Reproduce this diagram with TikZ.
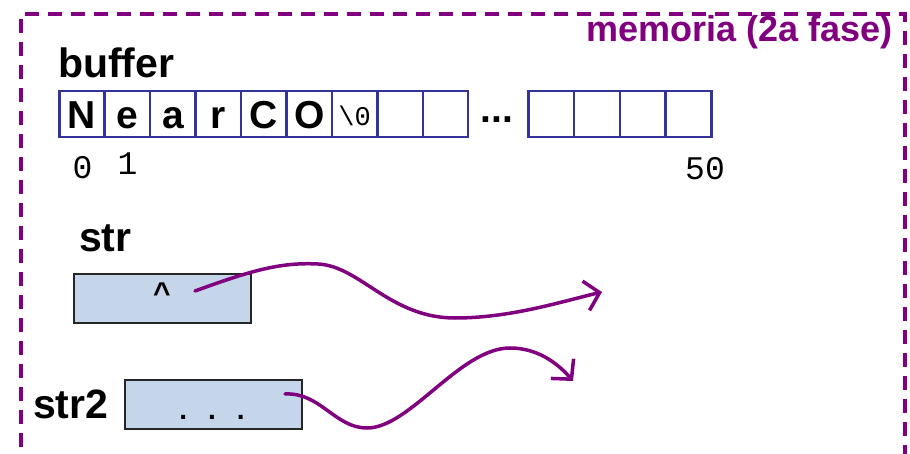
\documentclass[tikz,border=0pt]{standalone}
\usepackage{fontspec}
\setmainfont{Liberation Sans}
\newfontfamily\monof{Liberation Mono}
\usetikzlibrary{arrows.meta}
\definecolor{memcol}{RGB}{128,0,128}
\definecolor{cellblue}{RGB}{51,51,153}
\definecolor{boxfill}{RGB}{197,214,234}
\begin{document}
\begin{tikzpicture}[x=1pt,y=-1pt,
  lbl/.style={font=\fontsize{41}{41}\selectfont\bfseries, inner sep=0pt, anchor=base west},
  cellchar/.style={font=\fontsize{39}{39}\selectfont\bfseries, inner sep=0pt, anchor=base},
  idx/.style={font=\monof\fontsize{33}{33}\selectfont, inner sep=0pt, anchor=base},
  cellbox/.style={draw=cellblue, line width=2.5pt, minimum height=46pt, inner sep=0pt, anchor=north west},
  varbox/.style={draw=black!85, fill=boxfill, line width=2pt, minimum width=177pt, minimum height=49pt, inner sep=0pt, anchor=north west},
  ptr/.style={draw=memcol, line width=3.5pt, line cap=round, -{Straight Barb[length=14pt,width=30pt]}}
]
\useasboundingbox (0,0) rectangle (910,454);
\clip (0,0) rectangle (910,454);
% memory frame
\draw[memcol, line width=3.5pt, dash pattern=on 14pt off 9pt] (21,470) -- (21,14) -- (905,14) -- (905,470);
\node[font=\fontsize{36}{36}\selectfont\bfseries, text=memcol, inner sep=0pt, anchor=base east] (mem) at (893,42) {memoria (2a fase)};
% buffer
\node[lbl] (buflbl) at (58,78) {buffer};
\foreach \i in {0,...,8} {
  \node[cellbox, minimum width=45.44pt] (c\i) at ({58+45.44*\i},90) {};
}
\foreach \i in {0,...,3} {
  \node[cellbox, minimum width=45.75pt] (d\i) at ({527+45.75*\i},90) {};
}
\foreach \i/\t in {0/N,1/e,2/a,3/r,4/C,5/O} {
  \node[cellchar] (t\i) at (c\i.center |- 0,129) {\t};
}
\node[font=\monof\fontsize{27}{27}\selectfont, inner sep=0pt, anchor=base] (t6) at (c6.center |- 0,126) {\textbackslash 0};
\node[font=\fontsize{39}{39}\selectfont\bfseries, inner sep=0pt, anchor=base] (dots) at (497,123) {...};
\node[idx] (i0) at (82.5,179) {0};
\node[idx] (i1) at (127.5,175) {1};
\node[idx] (i50) at (705,180) {50};
% str
\node[lbl] (strlbl) at (79,252) {str};
\node[varbox] (strbox) at (73,273) {};
\node[font=\monof\fontsize{30}{30}\selectfont\bfseries, inner sep=0pt, anchor=base] (caret) at (162,304) {\^{}};
% str2
\node[lbl] (str2lbl) at (33,418) {str2};
\node[varbox] (str2box) at (124,379) {};
\node[font=\fontsize{28}{28}\selectfont\bfseries, inner sep=0pt, anchor=base] (ell) at (212,419) {.\hspace{21pt}.\hspace{21pt}.};
% pointers
\coordinate (p1s) at (195,291);
\coordinate (p1e) at (602,292);
\coordinate (p2s) at (285,394);
\coordinate (p2e) at (573,381);
\draw[ptr] (p1s) .. controls (250,271) and (280,262) .. (318,264)
  .. controls (360,266) and (390,318) .. (455,318)
  .. controls (510,318) and (560,302) .. (p1e);
\draw[ptr] (p2s) .. controls (320,392) and (335,428) .. (367,428)
  .. controls (410,428) and (460,348) .. (510,348)
  .. controls (540,348) and (560,366) .. (p2e);
\end{tikzpicture}
\end{document}
